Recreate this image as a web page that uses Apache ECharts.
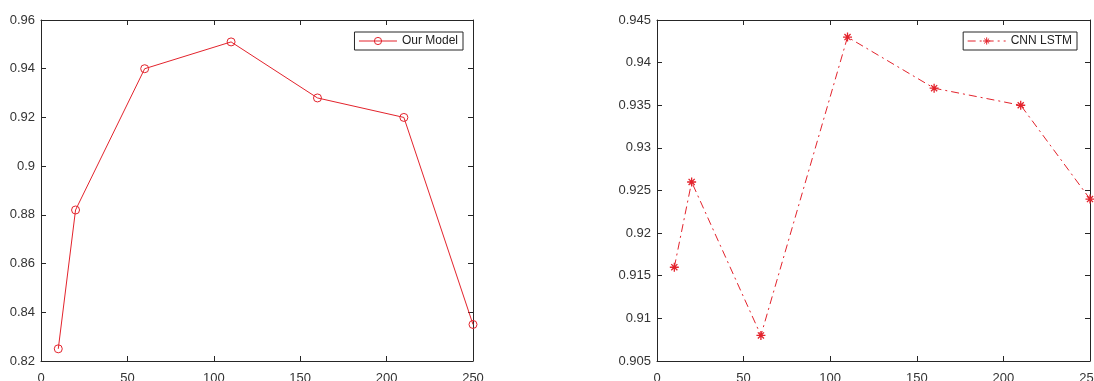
<!DOCTYPE html>
<html>
<head>
    <meta charset="utf-8">
    <title>Our Model vs CNN LSTM</title>
    <script src="https://cdn.jsdelivr.net/npm/echarts@6/dist/echarts.min.js"></script>
    <style type="text/css">
        * {
            margin: 0;
            padding: 0;
        }

        #main {
            width: 1094px;
            height: 381px;
            background: #fff;
        }
    </style>
</head>
<body>
<div id="main"></div>

<script type="text/javascript">
    // x positions (shared by both plots)
    var xValues = [10, 20, 60, 110, 160, 210, 250];
    // left plot
    var ourModel = [0.825, 0.882, 0.940, 0.951, 0.928, 0.920, 0.835];
    // right plot
    var cnnLstm = [0.916, 0.926, 0.908, 0.943, 0.937, 0.935, 0.924];

    var xTicks = { min: 0, max: 250, interval: 50 };
    var leftTicks = { min: 0.82, max: 0.96, interval: 0.02 };
    var rightTicks = { min: 0.905, max: 0.945, interval: 0.005 };

    var red = '#e3232c';
    var ink = '#262626';
    var font = 'Liberation Sans, Arial, sans-serif';
    var asterisk = 'path://M5,0 L5,10 M0,5 L10,5 M1.6,1.6 L8.4,8.4 M1.6,8.4 L8.4,1.6';

    function pairs(xs, ys) {
        var out = [];
        for (var i = 0; i < xs.length; i++) {
            out.push([xs[i], ys[i]]);
        }
        return out;
    }

    // one axis, mirror=true gives the top/right box side with inward ticks only
    function axis(gridIndex, pos, ticks, mirror) {
        return {
            type: 'value',
            gridIndex: gridIndex,
            position: pos,
            min: ticks.min,
            max: ticks.max,
            interval: ticks.interval,
            axisLine: { show: true, onZero: false, lineStyle: { color: ink, width: 1 } },
            axisTick: { show: true, inside: true, length: 5, lineStyle: { color: ink } },
            splitLine: { show: false },
            axisLabel: {
                show: !mirror,
                color: '#333',
                fontFamily: font,
                fontSize: 13,
                margin: pos === 'bottom' ? 11 : 6
            }
        };
    }

    function legendBox(name, right, top) {
        return {
            data: [name],
            right: right,
            top: top,
            padding: [3, 5, 3, 4],
            borderColor: ink,
            borderWidth: 1,
            backgroundColor: '#fff',
            itemWidth: 38,
            itemHeight: 9,
            itemStyle: { color: 'rgba(0,0,0,0)', borderColor: red, borderWidth: 1 },
            lineStyle: { width: 1 },
            textStyle: { color: '#222', fontSize: 12, fontFamily: font }
        };
    }

    var myChart = echarts.init(document.getElementById('main'));

    var option = {
        animation: false,
        backgroundColor: '#fff',
        // labels may run to the page edge, keep the boxes where they are
        grid: [
            { left: 41, top: 20, width: 432, height: 341, outerBoundsMode: 'none', containLabel: false },
            { left: 657, top: 20, width: 433, height: 341, outerBoundsMode: 'none', containLabel: false }
        ],
        xAxis: [
            axis(0, 'bottom', xTicks, false),
            axis(0, 'top', xTicks, true),
            axis(1, 'bottom', xTicks, false),
            axis(1, 'top', xTicks, true)
        ],
        yAxis: [
            axis(0, 'left', leftTicks, false),
            axis(0, 'right', leftTicks, true),
            axis(1, 'left', rightTicks, false),
            axis(1, 'right', rightTicks, true)
        ],
        legend: [
            legendBox('Our Model', 631, 32),
            legendBox('CNN LSTM', 17, 32)
        ],
        series: [
            {
                name: 'Our Model',
                type: 'line',
                xAxisIndex: 0,
                yAxisIndex: 0,
                data: pairs(xValues, ourModel),
                symbol: 'circle',
                symbolSize: 8,
                lineStyle: { color: red, width: 1 },
                itemStyle: { color: 'rgba(0,0,0,0)', borderColor: red, borderWidth: 1 }
            },
            {
                name: 'CNN LSTM',
                type: 'line',
                xAxisIndex: 2,
                yAxisIndex: 2,
                data: pairs(xValues, cnnLstm),
                symbol: asterisk,
                symbolSize: 9,
                lineStyle: { color: red, width: 1, type: [8, 4, 2, 4] },
                itemStyle: { color: 'rgba(0,0,0,0)', borderColor: red, borderWidth: 1.3 }
            }
        ]
    };

    myChart.setOption(option);
</script>
</body>
</html>
